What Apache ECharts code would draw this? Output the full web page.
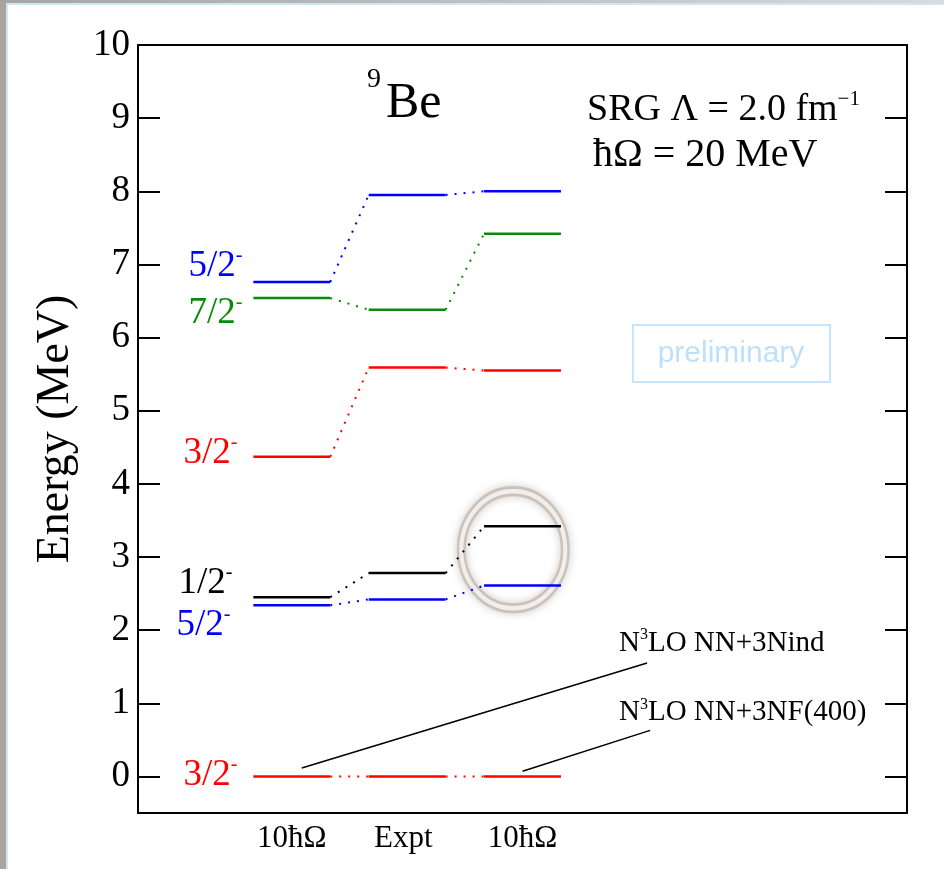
<!DOCTYPE html>
<html>
<head>
<meta charset="utf-8">
<script src="https://cdn.jsdelivr.net/npm/echarts@6/dist/echarts.min.js"></script>
<style>
  html, body { margin: 0; padding: 0; background: #fff; }
  #chart { position: absolute; left: 0; top: 0; width: 944px; height: 869px; }
  .frame { position: absolute; pointer-events: none; }
  #frameTop { left: 0; top: 0; width: 944px; height: 3px; background: linear-gradient(to right, #a9a4a0, #ddd9d6); }
  #frameLeft { left: 0; top: 0; width: 6px; height: 869px; background: #a9a4a0; }
  #edgeTop { left: 6px; top: 3px; width: 938px; height: 2px; background: #cde6f8; }
  #edgeLeft { left: 6px; top: 3px; width: 2px; height: 866px; background: #cde6f8; }
</style>
</head>
<body>
<div id="chart"></div>
<div class="frame" id="frameTop"></div>
<div class="frame" id="frameLeft"></div>
<div class="frame" id="edgeTop"></div>
<div class="frame" id="edgeLeft"></div>
<script>
// ---- data ----
const columnLabels = ['10ħΩ', 'Expt', '10ħΩ'];
const yTicks = [0, 1, 2, 3, 4, 5, 6, 7, 8, 9, 10];
const spins = ['5/2', '7/2', '3/2', '1/2', '5/2', '3/2'];
// excitation energies (MeV) per column: NN+3Nind, experiment, NN+3NF(400)
const e52high = [6.76, 7.95, 8.00];
const e72     = [6.54, 6.38, 7.42];
const e32high = [4.37, 5.59, 5.55];
const e12     = [2.45, 2.78, 3.42];
const e52low  = [2.34, 2.42, 2.61];
const e32gs   = [0, 0, 0];
const states = [e52high, e72, e32high, e12, e52low, e32gs];

// ---- layout / style ----
const SERIF = '"Liberation Serif", "Times New Roman", serif';
const SANS = '"Liberation Sans", Arial, sans-serif';
const COL_SPANS = [[1.5, 2.5], [3, 4], [4.5, 5.5]];
const COL_LABEL_X = [2, 3.45, 5];
const STATE_COLORS = ['#0000ff', '#0a8a0a', '#ff0000', '#000000', '#0000ff', '#ff0000'];
// label offset in px from the left end of the first level (right-aligned text)
const LABEL_OFFSET = [[-11, -16], [-11, 15], [-16, -4], [-21, -14], [-23, 20], [-16, -1]];

const levelData = [];
states.forEach((vals, s) => vals.forEach((e, c) => levelData.push([c, e, s])));
const linkData = [];
states.forEach((vals, s) => {
  for (let c = 0; c < vals.length - 1; c++) linkData.push([c, vals[c], vals[c + 1], s]);
});
const labelData = states.map((vals, s) => [COL_SPANS[0][0], vals[0], s]);

// rich text styles: base token + raised superscript token
const supRich = (size, color) => ({
  b: { fontFamily: SERIF, fontSize: size, fill: color, lineHeight: size + 4 },
  s: {
    fontFamily: SERIF, fontSize: Math.round(size * 0.55), fill: color,
    verticalAlign: 'top', lineHeight: Math.round(size * 0.27)
  }
});

const chart = echarts.init(document.getElementById('chart'));

const axisLineStyle = { color: '#000', width: 2 };

chart.setOption({
  animation: false,
  backgroundColor: '#fff',
  grid: { left: 138, top: 45, width: 769, height: 768, containLabel: false },
  xAxis: [{
    type: 'value', min: 0, max: 10, position: 'bottom',
    axisLine: { show: true, onZero: false, lineStyle: axisLineStyle },
    axisTick: { show: false },
    splitLine: { show: false },
    axisLabel: {
      customValues: COL_LABEL_X,
      formatter: v => columnLabels[COL_LABEL_X.indexOf(v)],
      fontFamily: SERIF, fontSize: 31, color: '#000', margin: 10
    }
  }, {
    type: 'value', min: 0, max: 10, position: 'top',
    axisLine: { show: true, onZero: false, lineStyle: axisLineStyle },
    axisTick: { show: false }, axisLabel: { show: false }, splitLine: { show: false }
  }],
  yAxis: [{
    type: 'value', min: -0.5, max: 10, position: 'left',
    axisLine: { show: true, onZero: false, lineStyle: axisLineStyle },
    axisTick: { show: true, inside: true, length: 22, customValues: yTicks, lineStyle: axisLineStyle },
    axisLabel: { customValues: yTicks, fontFamily: SERIF, fontSize: 37, color: '#000', margin: 8 },
    splitLine: { show: false },
    name: 'Energy (MeV)', nameLocation: 'middle', nameRotate: 90, nameGap: 59,
    nameTextStyle: { fontFamily: SERIF, fontSize: 46, color: '#000' }
  }, {
    type: 'value', min: -0.5, max: 10, position: 'right',
    axisLine: { show: true, onZero: false, lineStyle: axisLineStyle },
    axisTick: { show: true, inside: true, length: 22, customValues: yTicks, lineStyle: axisLineStyle },
    axisLabel: { show: false }, splitLine: { show: false }
  }],
  series: [{
    name: 'levels', type: 'custom', data: levelData, silent: true,
    renderItem(params, api) {
      const c = api.value(0), e = api.value(1), s = api.value(2);
      const p0 = api.coord([COL_SPANS[c][0], e]);
      const p1 = api.coord([COL_SPANS[c][1], e]);
      return {
        type: 'line',
        shape: { x1: p0[0], y1: p0[1], x2: p1[0], y2: p1[1] },
        style: { stroke: STATE_COLORS[s], lineWidth: 2.5 }
      };
    }
  }, {
    name: 'links', type: 'custom', data: linkData, silent: true,
    renderItem(params, api) {
      const c = api.value(0), e0 = api.value(1), e1 = api.value(2), s = api.value(3);
      const p0 = api.coord([COL_SPANS[c][1], e0]);
      const p1 = api.coord([COL_SPANS[c + 1][0], e1]);
      return {
        type: 'line',
        shape: { x1: p0[0], y1: p0[1], x2: p1[0], y2: p1[1] },
        style: { stroke: STATE_COLORS[s], lineWidth: 2, lineDash: [2, 7] }
      };
    }
  }, {
    name: 'spins', type: 'custom', data: labelData, silent: true,
    renderItem(params, api) {
      const s = api.value(2);
      const p = api.coord([api.value(0), api.value(1)]);
      return {
        type: 'text',
        style: {
          x: p[0] + LABEL_OFFSET[s][0], y: p[1] + LABEL_OFFSET[s][1],
          text: '{b|' + spins[s] + '}{s|-}',
          rich: supRich(37, STATE_COLORS[s]),
          align: 'right', verticalAlign: 'middle'
        }
      };
    }
  }]
});

// annotations placed in data coordinates
const toPx = (x, y) => chart.convertToPixel({ xAxisIndex: 0, yAxisIndex: 0 }, [x, y]);
const ringC = toPx(4.88, 3.1);
const lead1a = toPx(2.13, 0.115), lead1b = toPx(6.62, 1.55);
const lead2a = toPx(5.0, 0.07), lead2b = toPx(6.66, 0.63);
const note1 = toPx(6.255, 1.69), note2 = toPx(6.255, 0.74);

chart.setOption({
  graphic: [
    // highlight ring
    {
      type: 'circle', x: ringC[0], y: ringC[1], scaleY: 63 / 56, silent: true,
      shape: { cx: 0, cy: 0, r: 52 },
      style: { fill: 'none', stroke: '#cbc3bb', lineWidth: 9, shadowBlur: 8, shadowColor: 'rgba(120,110,100,0.35)' }
    },
    {
      type: 'circle', x: ringC[0], y: ringC[1], scaleY: 63 / 56, silent: true,
      shape: { cx: 0, cy: 0, r: 52 },
      style: { fill: 'none', stroke: '#f1eeeb', lineWidth: 4 }
    },
    // leader lines
    { type: 'line', silent: true, shape: { x1: lead1a[0], y1: lead1a[1], x2: lead1b[0], y2: lead1b[1] }, style: { stroke: '#000', lineWidth: 1.5 } },
    { type: 'line', silent: true, shape: { x1: lead2a[0], y1: lead2a[1], x2: lead2b[0], y2: lead2b[1] }, style: { stroke: '#000', lineWidth: 1.5 } },
    {
      type: 'text', x: note1[0], y: note1[1] + 7, silent: true,
      style: { text: '{b|N}{s|3}{b|LO NN+3Nind}', rich: supRich(29, '#000'), align: 'left', verticalAlign: 'bottom' }
    },
    {
      type: 'text', x: note2[0], y: note2[1] + 7, silent: true,
      style: { text: '{b|N}{s|3}{b|LO NN+3NF(400)}', rich: supRich(29, '#000'), align: 'left', verticalAlign: 'bottom' }
    },
    // nucleus: mass number raised above the symbol
    {
      type: 'text', x: 367, y: 66, silent: true,
      style: { text: '9', font: '28px ' + SERIF, fill: '#000', align: 'left', verticalAlign: 'top' }
    },
    {
      type: 'text', x: 386, y: 129, silent: true,
      style: { text: 'Be', font: '50px ' + SERIF, fill: '#000', align: 'left', verticalAlign: 'bottom' }
    },
    // parameters
    {
      type: 'text', x: 587, y: 131, silent: true,
      style: { text: '{b|SRG Λ = 2.0 fm}{s|−1}', rich: supRich(38, '#000'), align: 'left', verticalAlign: 'bottom' }
    },
    {
      type: 'text', x: 593, y: 175, silent: true,
      style: { text: 'ħΩ = 20 MeV', font: '40px ' + SERIF, fill: '#000', align: 'left', verticalAlign: 'bottom' }
    },
    // preliminary stamp
    {
      type: 'rect', silent: true, shape: { x: 633, y: 325, width: 197, height: 57 },
      style: { fill: 'none', stroke: '#c6e4fb', lineWidth: 2 }
    },
    {
      type: 'text', x: 731, y: 354, silent: true,
      style: { text: 'preliminary', font: '30px ' + SANS, fill: '#bfe0fb', align: 'center', verticalAlign: 'middle' }
    }
  ]
});
</script>
</body>
</html>
